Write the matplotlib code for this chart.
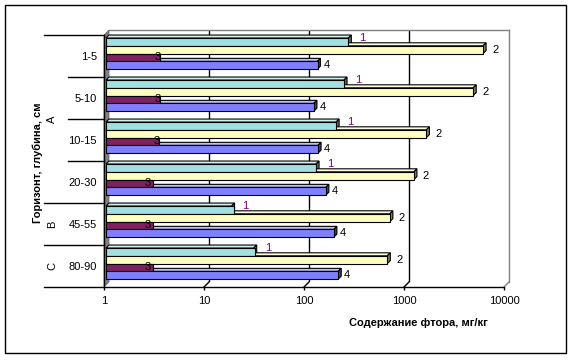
import numpy as np
import matplotlib
matplotlib.use('Agg')
import matplotlib.pyplot as plt
from matplotlib.patches import Polygon, Rectangle
from matplotlib.transforms import IdentityTransform, blended_transform_factory
from matplotlib.lines import Line2D

plt.rcParams['font.family'] = ['Liberation Sans', 'DejaVu Sans']

# ---------------- data ----------------
depths = ['1-5', '5-10', '10-15', '20-30', '45-55', '80-90']
horizons = ['А', 'В', 'С']
horizon_span = [4, 1, 1]
series_labels = ['1', '2', '3', '4']
s1 = [265, 240, 200, 126, 18, 30]
s2 = [5900, 4700, 1600, 1200, 690, 650]
s3 = [2.45, 2.45, 2.35, 1.95, 1.95, 1.95]
s4 = [130, 120, 132, 158, 190, 210]
xticks = [1, 10, 100, 1000, 10000]
xlabel = 'Содержание фтора, мг/кг'
ylabel = 'Горизонт, глубина, см'

series = [s1, s2, s3, s4]
front_cols = ['#A0E0E0', '#FFFFC0', '#802060', '#8080FF']
label_cols = ['#800080', 'black', 'black', 'black']
label_dx = [8, 6, 7, 3]
label_dy = [4, 0, 0, 0]

W, H = 573, 360
fig = plt.figure(figsize=(W / 100, H / 100), dpi=100)


def fr(x0, y0, x1, y1):
    return [x0 / W, 1 - y1 / H, (x1 - x0) / W, (y1 - y0) / H]


n = len(depths)

# back wall
ax_back = fig.add_axes(fr(109, 30, 509, 282))
ax_back.set_xscale('log')
ax_back.set_xlim(xticks[0], xticks[-1])
ax_back.set_ylim(0, 1)
ax_back.set_facecolor('white')
for s in ['left', 'bottom']:
    ax_back.spines[s].set_visible(False)
for s in ['top', 'right']:
    ax_back.spines[s].set_color('#808080')
    ax_back.spines[s].set_linewidth(1)
ax_back.set_xticks(xticks[1:-1])
ax_back.minorticks_off()
ax_back.tick_params(length=0, labelbottom=False, labelleft=False)
ax_back.set_yticks([])
ax_back.grid(axis='x', color='black', lw=1)

# front axes (ticks, labels)
ax = fig.add_axes(fr(104, 35, 504, 287))
ax.set_xscale('log')
ax.set_xlim(xticks[0], xticks[-1])
ax.set_ylim(n, 0)
ax.patch.set_visible(False)
ax.set_zorder(5)
for s in ['top', 'right']:
    ax.spines[s].set_visible(False)
for s in ['left', 'bottom']:
    ax.spines[s].set_color('black')
    ax.spines[s].set_linewidth(1)
ax.set_xticks(xticks)
ax.set_xticklabels([str(t) for t in xticks])
ax.minorticks_off()
ax.tick_params(axis='x', direction='out', length=2.5, width=1, pad=4, labelsize=8)
ax.set_yticks(np.arange(n) + 0.5)
ax.set_yticklabels(depths)
ax.tick_params(axis='y', length=0, pad=5, labelsize=8)

# category tick lines (multi-level)
edges = np.cumsum([0] + horizon_span)
btr = blended_transform_factory(ax.transAxes, ax.transData)
for e in range(n + 1):
    x0 = -0.15 if e in edges else -0.09
    ax.add_line(Line2D([x0, 0], [e, e], transform=btr, color='black', lw=1, clip_on=False))
for k, h in enumerate(horizons):
    mid = (edges[k] + edges[k + 1]) / 2
    ax.text(-0.13, mid, h, transform=btr, rotation=90, ha='center', va='center', fontsize=8)

# bars axes (mid depth)
ax_b = fig.add_axes(fr(106, 33, 506, 285))
ax_b.set_xscale('log')
ax_b.set_xlim(xticks[0], xticks[-1])
ax_b.set_ylim(n, 0)
ax_b.axis('off')
ax_b.set_zorder(4)

# left wall and floor edges (pixel geometry from axes transforms)
inv = fig.transFigure.inverted()
p_ft = ax.transAxes.transform((0, 1))
p_fb = ax.transAxes.transform((0, 0))
p_bt = ax_back.transAxes.transform((0, 1))
p_bb = ax_back.transAxes.transform((0, 0))
wall = Polygon(inv.transform([p_ft, p_bt, p_bb, p_fb]), closed=True,
               transform=fig.transFigure, fc='#808080', ec='#606060', lw=0.5, zorder=1)
fig.add_artist(wall)
for t in xticks[1:]:
    a = ax.transData.transform((t, n))
    b = ax_back.transData.transform((t, 0))
    col = '#808080' if t == xticks[-1] else 'black'
    fig.add_artist(Line2D(*zip(*inv.transform([a, b])), transform=fig.transFigure,
                          color=col, lw=1, zorder=1))

h = 0.185
dd = 3
for j, (vals, col) in enumerate(zip(series, front_cols)):
    yc = np.arange(n) + 0.2125 + h * j
    ax_b.barh(yc, vals, height=h, left=xticks[0], color=col, edgecolor='black',
              linewidth=0.8, zorder=3)
    rgb = np.array(matplotlib.colors.to_rgb(col))
    side = tuple(rgb * 0.5)
    top = tuple(rgb * 0.5 + 0.5)
    for i, v in enumerate(vals):
        x0, yt = ax_b.transData.transform((xticks[0], yc[i] - h / 2))
        xe, yb = ax_b.transData.transform((v, yc[i] + h / 2))
        end_face = [(xe, yt), (xe, yb), (xe + dd, yb + dd), (xe + dd, yt + dd)]
        top_face = [(x0, yt), (xe, yt), (xe + dd, yt + dd), (x0 + dd, yt + dd)]
        ax_b.add_patch(Polygon(top_face, closed=True, transform=IdentityTransform(),
                               fc=top, ec='black', lw=0.8, zorder=2, clip_on=False))
        ax_b.add_patch(Polygon(end_face, closed=True, transform=IdentityTransform(),
                               fc=side, ec='black', lw=0.8, zorder=2, clip_on=False))
        ax_b.annotate(series_labels[j], (v, yc[i]), xytext=(label_dx[j] + dd, label_dy[j]),
                      textcoords='offset pixels', ha='left', va='center', fontsize=8,
                      color=label_cols[j], annotation_clip=False, zorder=6)

fig.text(38 / W, 1 - 163 / H, ylabel, rotation=90, ha='center', va='center',
         fontsize=8, fontweight='bold')
fig.text(418 / W, 1 - 323 / H, xlabel, ha='center', va='center', fontsize=8,
         fontweight='bold')

fig.add_artist(Rectangle((5 / W, 1 - 353 / H), 561 / W, 348 / H, transform=fig.transFigure,
                         fill=False, ec='black', lw=1))

fig.savefig('out.png', dpi=100)
